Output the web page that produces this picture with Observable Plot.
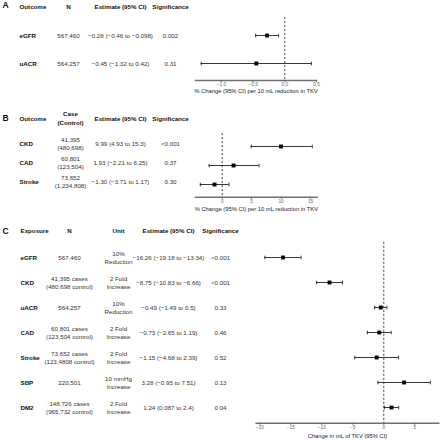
<!DOCTYPE html>
<html>
<head>
<meta charset="utf-8">
<script src="https://cdn.jsdelivr.net/npm/d3@7"></script>
<script src="https://cdn.jsdelivr.net/npm/@observablehq/plot@0.6"></script>
<style>
  html, body { margin: 0; padding: 0; background: #fff; }
  #root { position: relative; width: 440px; height: 440px; overflow: hidden; }
  #root svg { position: absolute; left: 0; }
</style>
</head>
<body>
<div id="root"></div>
<script>
// ---------- Panel A ----------
const aOutcomes = ["eGFR", "uACR"];
const aN = ["567,460", "564,257"];
const aEst = [-0.28, -0.45];
const aLo = [-0.46, -1.32];
const aHi = [-0.098, 0.42];
const aEstText = ["−0.28 (−0.46 to −0.098)", "−0.45 (−1.32 to 0.42)"];
const aSig = ["0.002", "0.31"];
const aTicks = [-1, -0.5, 0, 0.5];

// ---------- Panel B ----------
const bOutcomes = ["CKD", "CAD", "Stroke"];
const bCase = ["41,395\n(480,698)", "60,801\n(123,504)", "73,652\n(1,234,808)"];
const bEst = [9.99, 1.93, -1.30];
const bLo = [4.93, -2.21, -3.71];
const bHi = [15.3, 6.25, 1.17];
const bEstText = ["9.99 (4.93 to 15.3)", "1.93 (−2.21 to 6.25)", "−1.30 (−3.71 to 1.17)"];
const bSig = ["<0.001", "0.37", "0.30"];
const bTicks = [0, 5, 10, 15];

// ---------- Panel C ----------
const cExposure = ["eGFR", "CKD", "uACR", "CAD", "Stroke", "SBP", "DM2"];
const cN = ["567,460", "41,395 cases\n(480,698 control)", "564,257", "60,801 cases\n(123,504 control)",
            "73,652 cases\n(123,4808 control)", "220,501", "148,726 cases\n(965,732 control)"];
const cUnit = ["10%\nReduction", "2 Fold\nIncrease", "10%\nReduction", "2 Fold\nIncrease",
               "2 Fold\nIncrease", "10 mmHg\nIncrease", "2 Fold\nIncrease"];
const cEst = [-16.26, -8.75, -0.49, -0.73, -1.15, 3.28, 1.24];
const cLo = [-19.18, -10.83, -1.49, -2.65, -4.68, -0.95, 0.087];
const cHi = [-13.34, -6.66, 0.5, 1.19, 2.39, 7.51, 2.4];
const cEstText = ["−16.26 (−19.18 to −13.34)", "−8.75 (−10.83 to −6.66)", "−0.49 (−1.49 to 0.5)",
                  "−0.73 (−2.65 to 1.19)", "−1.15 (−4.68 to 2.39)", "3.28 (−0.95 to 7.51)", "1.24 (0.087 to 2.4)"];
const cSig = ["<0.001", "<0.001", "0.33", "0.46", "0.52", "0.13", "0.04"];
const cTicks = [-20, -15, -10, -5, 0, 5];

const FONT = "'Liberation Sans', Arial, Helvetica, sans-serif";
const capSymbol = {
  draw(ctx, size) {
    const h = Math.sqrt(size / Math.PI);
    ctx.moveTo(0, -h);
    ctx.lineTo(0, h);
  }
};

function forest(cfg) {
  const {data, top, height, mt, mb, ml, mr, xDomain, ticks, fmt, pad, title, titleDy,
         headers, cols, textDy, letter, letterY} = cfg;
  const marks = [
    Plot.frame({anchor: "bottom", stroke: "#6f6f6f", strokeWidth: 1.5}),
    Plot.axisX({ticks, tickFormat: fmt, tickSize: 2, tickPadding: 0.5, fontSize: 4.7,
                label: null, color: "#666"}),
    Plot.ruleX([0], {stroke: "#333", strokeWidth: 0.9, strokeDasharray: "2.2,1.8"}),
    Plot.ruleY(data, {y: "name", x1: "lo", x2: "hi", stroke: "#222", strokeWidth: 0.9}),
    Plot.dot(data, {x: "lo", y: "name", symbol: capSymbol, r: 1.8, stroke: "#222", strokeWidth: 0.9, fill: "none"}),
    Plot.dot(data, {x: "hi", y: "name", symbol: capSymbol, r: 1.8, stroke: "#222", strokeWidth: 0.9, fill: "none"}),
    Plot.dot(data, {x: "est", y: "name", symbol: "square", r: 2.2, fill: "#000", stroke: "none"}),
    Plot.text([title], {frameAnchor: "bottom", lineAnchor: "middle", dy: titleDy, fontSize: 5.8, fill: "#222"}),
    Plot.text([letter], {frameAnchor: "top-left", lineAnchor: "middle", dx: 2 - ml, dy: letterY - mt,
                         textAnchor: "start", fontWeight: "bold", fontSize: 8.5, fill: "#111"})
  ];
  cols.forEach((c, i) => {
    marks.push(Plot.text(data, {
      y: "name", text: c.key, frameAnchor: "left", lineAnchor: "middle", dx: c.x - ml, dy: textDy,
      textAnchor: c.anchor, fontSize: 6.2, lineHeight: 1.3,
      fontWeight: i === 0 ? "bold" : "normal", fill: i === 0 ? "#111" : "#333"
    }));
    marks.push(Plot.text([headers[i]], {
      frameAnchor: "top-left", lineAnchor: "middle", dx: c.x - ml, dy: cfg.headerY - mt,
      textAnchor: c.anchor, fontSize: 6.2, lineHeight: 1.4, fontWeight: "bold", fill: "#111"
    }));
  });
  const svg = Plot.plot({
    width: 440, height,
    marginTop: mt, marginBottom: mb, marginLeft: ml, marginRight: mr,
    style: {fontFamily: FONT, background: "transparent"},
    x: {domain: xDomain},
    y: {type: "point", domain: data.map(d => d.name), padding: pad, axis: null},
    marks
  });
  svg.style.top = top + "px";
  document.getElementById("root").appendChild(svg);
}

const aData = aOutcomes.map((name, i) => ({name, n: aN[i], est: aEst[i], lo: aLo[i], hi: aHi[i], estText: aEstText[i], sig: aSig[i]}));
const bData = bOutcomes.map((name, i) => ({name, n: bCase[i], est: bEst[i], lo: bLo[i], hi: bHi[i], estText: bEstText[i], sig: bSig[i]}));
const cData = cExposure.map((name, i) => ({name, n: cN[i], unit: cUnit[i], est: cEst[i], lo: cLo[i], hi: cHi[i], estText: cEstText[i], sig: cSig[i]}));

forest({
  data: aData, top: 0, height: 100, mt: 17, mb: 20, ml: 195, mr: 124,
  xDomain: [-1.41, 0.5], ticks: aTicks, fmt: d3.format(".1f"), pad: 0.59,
  title: "% Change (95% CI) per 10 mL reduction in TKV", titleDy: 11,
  headers: ["Outcome", "N", "Estimate (95% CI)", "Significance"],
  cols: [{key: "name", x: 19, anchor: "start"}, {key: "n", x: 68, anchor: "middle"},
         {key: "estText", x: 120, anchor: "middle"}, {key: "sig", x: 170, anchor: "middle"}],
  headerY: 6, textDy: 0, letter: "A", letterY: 5
});

forest({
  data: bData, top: 100, height: 115, mt: 33, mb: 18.3, ml: 195, mr: 123.3,
  xDomain: [-4.53, 16.13], ticks: bTicks, fmt: d3.format("d"), pad: 0.62,
  title: "% Change (95% CI) per 10 mL reduction in TKV", titleDy: 12,
  headers: ["Outcome", "Case\n(Control)", "Estimate (95% CI)", "Significance"],
  cols: [{key: "name", x: 19, anchor: "start"}, {key: "n", x: 70, anchor: "middle"},
         {key: "estText", x: 120, anchor: "middle"}, {key: "sig", x: 170, anchor: "middle"}],
  headerY: 17.5, textDy: -3, letter: "B", letterY: 18
});

forest({
  data: cData, top: 215, height: 225, mt: 26.7, mb: 17.3, ml: 255.7, mr: 1.7,
  xDomain: [-20.58, 8.87], ticks: cTicks, fmt: d3.format("d"), pad: 0.57,
  title: "Change in mL of TKV (95% CI)", titleDy: 13,
  headers: ["Exposure", "N", "Unit", "Estimate (95% CI)", "Significance"],
  cols: [{key: "name", x: 20, anchor: "start"}, {key: "n", x: 69, anchor: "middle"},
         {key: "unit", x: 118, anchor: "middle"}, {key: "estText", x: 168, anchor: "middle"},
         {key: "sig", x: 220, anchor: "middle"}],
  headerY: 14.5, textDy: 0, letter: "C", letterY: 15.5
});
</script>
</body>
</html>
